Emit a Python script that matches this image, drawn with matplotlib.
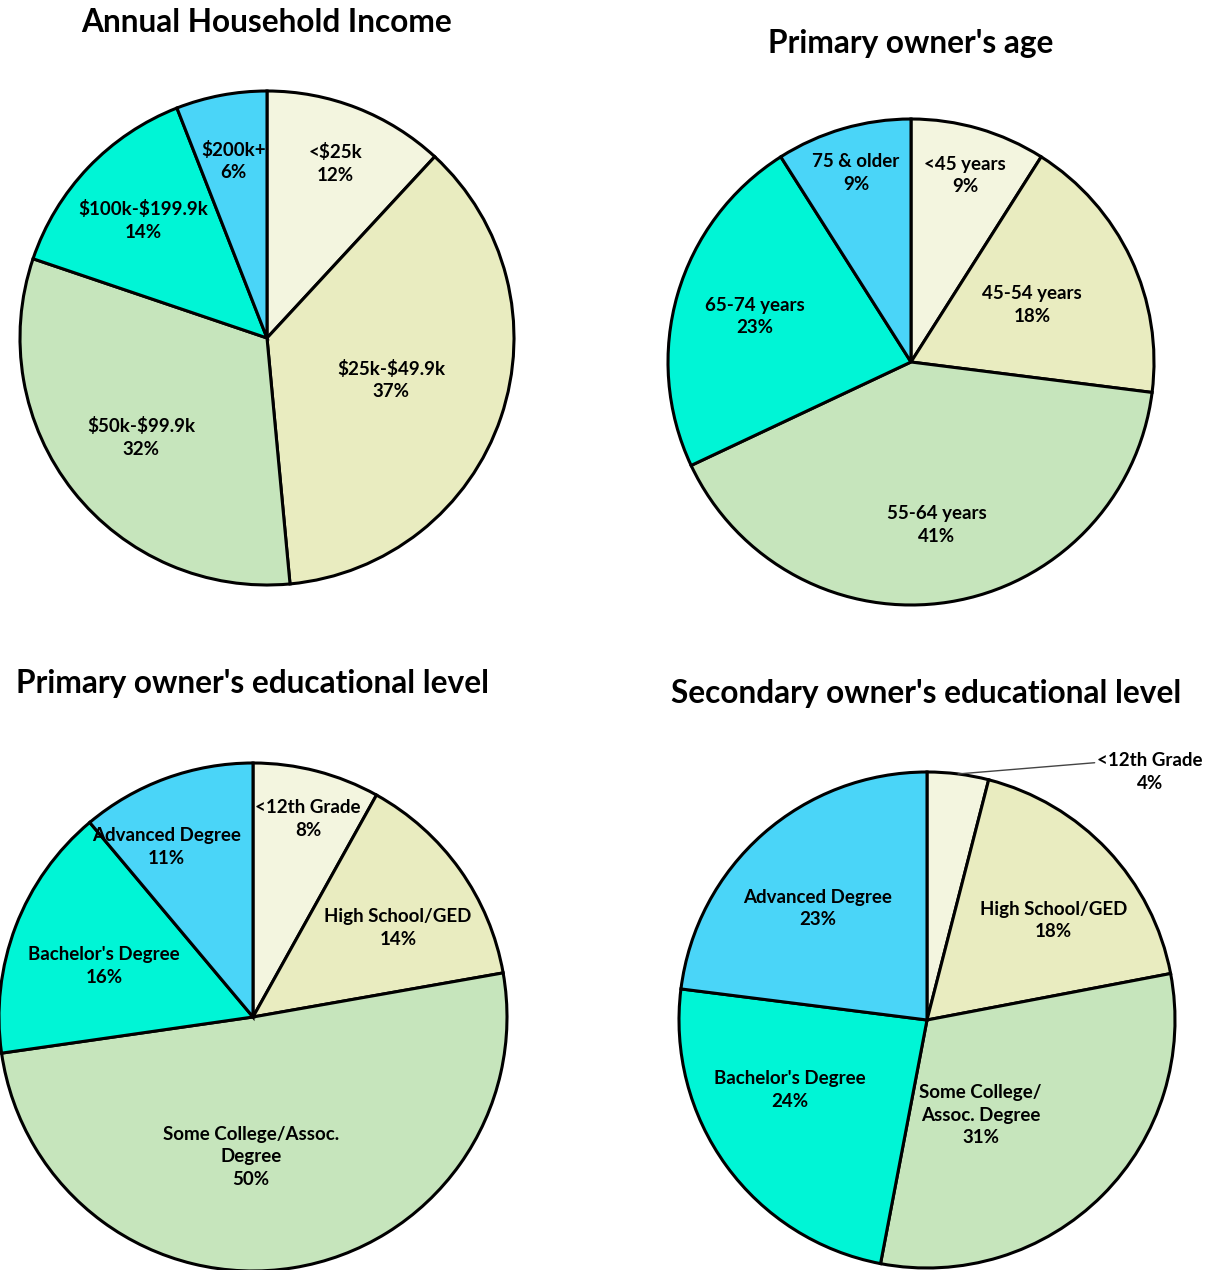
"""
four pie charts of household / owner demographics
"""
import numpy as np
from matplotlib import pyplot as plt

plt.rcParams['font.family'] = ['Lato', 'DejaVu Sans']
plt.rcParams['font.weight'] = 'bold'
plt.rcParams['text.parse_math'] = False  # labels contain "$"

# data, clockwise from 12 o'clock
income_labels = ["<$25k", "$25k-$49.9k", "$50k-$99.9k", "$100k-$199.9k", "$200k+"]
income_pct = [12, 37, 32, 14, 6]

age_labels = ["<45 years", "45-54 years", "55-64 years", "65-74 years", "75 & older"]
age_pct = [9, 18, 41, 23, 9]

edu1_labels = ["<12th Grade", "High School/GED", "Some College/Assoc.\nDegree",
               "Bachelor's Degree", "Advanced Degree"]
edu1_pct = [8, 14, 50, 16, 11]

edu2_labels = ["<12th Grade", "High School/GED", "Some College/\nAssoc. Degree",
               "Bachelor's Degree", "Advanced Degree"]
edu2_pct = [4, 18, 31, 24, 23]

colors = ["#F3F5DF", "#E9ECC0", "#C6E5BC", "#00F5D6", "#4AD5F8"]

W, H = 1218, 1270
fig = plt.figure(figsize=(W / 100, H / 100), dpi=100)

PAD = 1.04
LABEL_FS = 13.5
TITLE_FS = 22.8
LS = 1.4


def draw_pie(cx, cy, r, labels, values, title, title_xy, label_r, label_shift=None,
             outside=None):
    # cx, cy, r in pixels (y from the top)
    R = r * PAD
    ax = fig.add_axes([(cx - R) / W, (H - cy - R) / H, 2 * R / W, 2 * R / H])
    wedges, _ = ax.pie(values, colors=colors, startangle=90, counterclock=False,
                       wedgeprops=dict(edgecolor="black", linewidth=2.2))
    ax.set_xlim(-PAD, PAD)
    ax.set_ylim(-PAD, PAD)
    ax.set_aspect("equal")
    ax.axis("off")
    if label_shift is None:
        label_shift = [0] * len(values)
    for i, (w, lab, v) in enumerate(zip(wedges, labels, values)):
        w.set_clip_on(False)
        mid = (w.theta1 + w.theta2) / 2
        txt = f"{lab}\n{v}%"
        if outside is not None and i == outside[0]:
            ang = np.deg2rad(mid)
            ax.annotate(txt, xy=(np.cos(ang), np.sin(ang)), xytext=outside[1],
                        ha="center", va="center", fontsize=LABEL_FS, fontweight="bold",
                        annotation_clip=False, linespacing=LS,
                        arrowprops=dict(arrowstyle="-", color="#444444", lw=1,
                                        relpos=(0, 0.74), shrinkA=0, shrinkB=0))
            continue
        ang = np.deg2rad(mid - label_shift[i])
        d = label_r[i]
        ax.text(d * np.cos(ang), d * np.sin(ang), txt, ha="center", va="center",
                fontsize=LABEL_FS, fontweight="bold", linespacing=LS)
    fig.text(title_xy[0] / W, 1 - title_xy[1] / H, title, ha="center", va="center",
             fontsize=TITLE_FS, fontweight="bold")


draw_pie(267, 338, 247, income_labels, income_pct, "Annual Household Income",
         (267, 22), [0.76, 0.53, 0.65, 0.69, 0.73])
draw_pie(911, 362, 243, age_labels, age_pct, "Primary owner's age",
         (911, 43), [0.80, 0.55, 0.68, 0.67, 0.81])
draw_pie(253, 1017, 254, edu1_labels, edu1_pct, "Primary owner's educational level",
         (253, 683), [0.81, 0.67, 0.55, 0.62, 0.75], [1, 4, 10, -2, -7])
draw_pie(927, 1020, 248, edu2_labels, edu2_pct, "Secondary owner's educational level",
         (926, 693), [0, 0.65, 0.44, 0.62, 0.63], [0, 5, 15.6, 9, -3],
         outside=(0, (0.9, 1.0)))

plt.savefig("out.png", dpi=100)
